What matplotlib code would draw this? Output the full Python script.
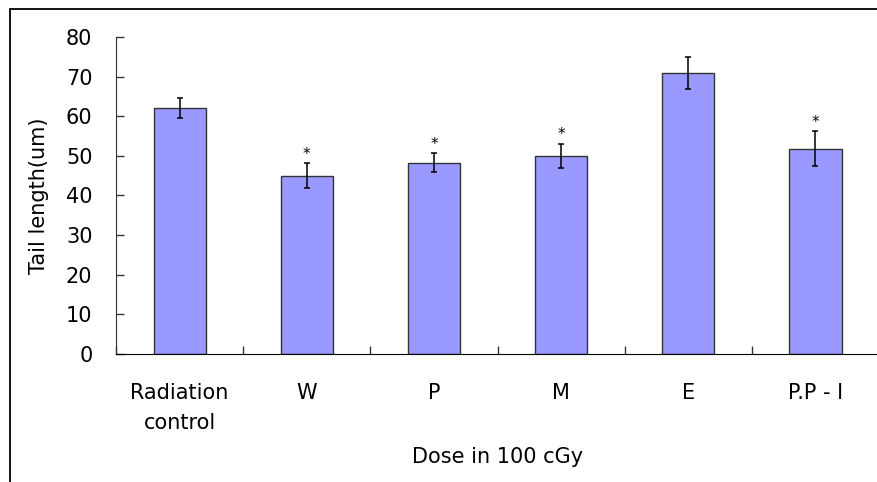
import numpy as np
import matplotlib.pyplot as plt
from matplotlib.patches import Rectangle

plt.rcParams['font.family'] = ['DejaVu Sans']

groups = ['Radiation\ncontrol', 'W', 'P', 'M', 'E', 'P.P - I']
tail_length = [62.1, 45.0, 48.3, 50.0, 70.9, 51.8]
tail_err = [2.6, 3.2, 2.4, 3.1, 4.1, 4.4]
significant = [False, True, True, True, False, True]

fig = plt.figure(figsize=(8.77, 4.82), dpi=100)
ax = fig.add_axes([0.1323, 0.2656, 0.870, 0.6577])

# outer frame of the original figure (runs off right/bottom edge)
fig.add_artist(Rectangle((10 / 877, -0.05), 1.2, 1 - 9 / 482 + 0.05,
                         transform=fig.transFigure, fill=False,
                         edgecolor='black', linewidth=1.3))

x = np.arange(len(groups))
ax.bar(x, tail_length, width=0.41, color='#9999FF', edgecolor='#333333',
       linewidth=1.0, zorder=2)
ax.errorbar(x, tail_length, yerr=tail_err, fmt='none', ecolor='black',
            elinewidth=1.1, capsize=2.3, capthick=1.1, zorder=3)

for xi, v, e, s in zip(x, tail_length, tail_err, significant):
    if s:
        ax.annotate('*', (xi, v + e), xytext=(0, 1), textcoords='offset points',
                    ha='center', va='bottom', fontsize=11)

ax.set_xlim(-0.5, len(groups) - 0.5)
ax.set_ylim(0, 80)
ax.set_yticks(np.arange(0, 81, 10))
ax.set_xticks(x)
ax.set_xticklabels(groups, fontsize=15, linespacing=1.6)
ax.set_xticks(np.arange(-0.5, len(groups), 1), minor=True)

ax.tick_params(axis='y', direction='in', length=6, width=1, labelsize=15,
               pad=17, color='#333333')
ax.tick_params(axis='x', which='major', length=0, pad=21)
ax.tick_params(axis='x', which='minor', direction='in', length=6, width=1,
               color='#333333')

for side in ['top', 'right']:
    ax.spines[side].set_visible(False)
ax.spines['left'].set_color('#333333')
ax.spines['bottom'].set_color('black')

ax.set_ylabel('Tail length(um)', fontsize=15, labelpad=12)
ax.set_xlabel('Dose in 100 cGy', fontsize=15, labelpad=10)

fig.savefig('out.png', dpi=100)
